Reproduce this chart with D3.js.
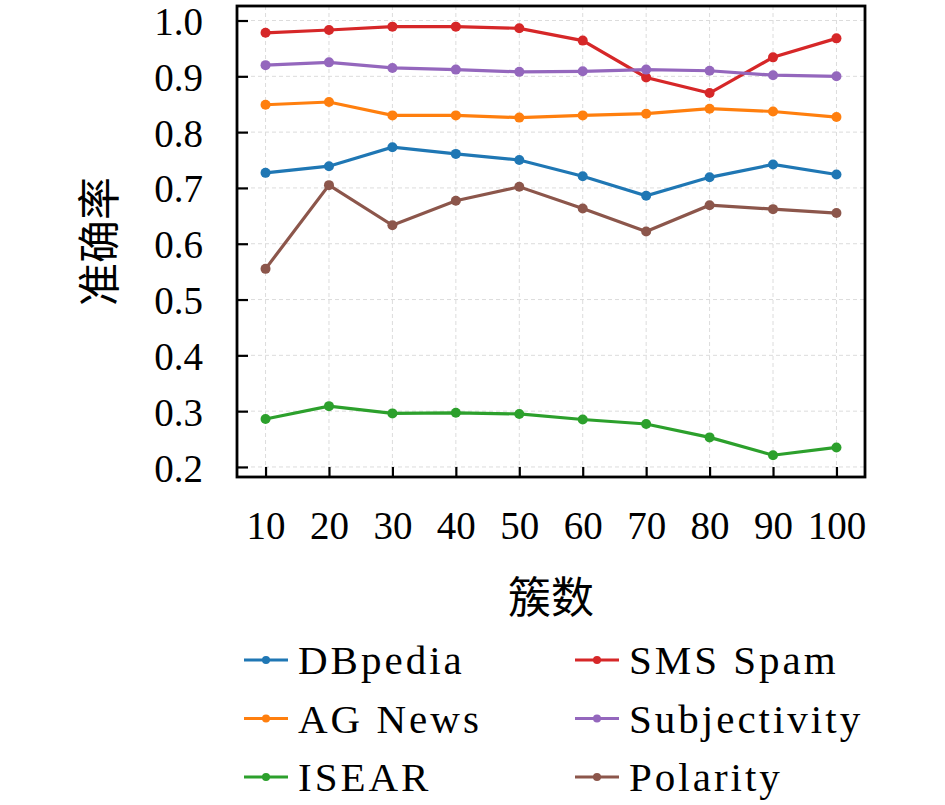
<!DOCTYPE html>
<html>
<head>
<meta charset="utf-8">
<script src="https://cdn.jsdelivr.net/npm/d3@7"></script>
<style>
  html, body { margin: 0; padding: 0; background: #fff; overflow: hidden; }
  svg { display: block; }
  svg text { font-family: "Liberation Serif", "DejaVu Serif", serif; fill: #000; }
  .cjk { font-family: "Noto Sans CJK SC", sans-serif; }
</style>
</head>
<body>
<svg id="chart"></svg>
<script>
// cluster counts on the x axis
const clusters = [10, 20, 30, 40, 50, 60, 70, 80, 90, 100];
const yTicks = [0.2, 0.3, 0.4, 0.5, 0.6, 0.7, 0.8, 0.9, 1.0];

// accuracy per dataset
const dbpedia = [0.727, 0.739, 0.773, 0.761, 0.750, 0.721, 0.686, 0.719, 0.742, 0.724];
const agNews = [0.849, 0.854, 0.830, 0.830, 0.826, 0.830, 0.833, 0.842, 0.837, 0.827];
const isear = [0.286, 0.309, 0.296, 0.297, 0.295, 0.285, 0.277, 0.253, 0.221, 0.235];
const smsSpam = [0.978, 0.983, 0.989, 0.989, 0.986, 0.964, 0.898, 0.870, 0.934, 0.968];
const subjectivity = [0.920, 0.925, 0.915, 0.912, 0.908, 0.909, 0.912, 0.910, 0.902, 0.900];
const polarity = [0.555, 0.705, 0.633, 0.677, 0.702, 0.663, 0.622, 0.669, 0.662, 0.655];

const seriesNames = ["DBpedia", "AG News", "ISEAR", "SMS Spam", "Subjectivity", "Polarity"];
const seriesValues = [dbpedia, agNews, isear, smsSpam, subjectivity, polarity];
const colors = ["#1f77b4", "#ff7f0e", "#2ca02c", "#d62728", "#9467bd", "#8c564b"];

const width = 945, height = 805;
const margin = { top: 6, right: 80, bottom: 328, left: 237 };
const innerWidth = width - margin.left - margin.right;
const innerHeight = height - margin.top - margin.bottom;

const svg = d3.select("#chart").attr("width", width).attr("height", height);
const g = svg.append("g").attr("transform", `translate(${margin.left},${margin.top})`);

// Scales (matplotlib-like 5% padding)
const x = d3.scaleLinear().domain([5.5, 104.5]).range([0, innerWidth]);
const y = d3.scaleLinear().domain([0.182, 1.026]).range([innerHeight, 0]);

// Grid
g.append("g")
  .selectAll("line")
  .data(clusters)
  .join("line")
  .attr("x1", (d) => x(d)).attr("x2", (d) => x(d))
  .attr("y1", 0).attr("y2", innerHeight)
  .attr("stroke", "#dcdcdc").attr("stroke-width", 1).attr("stroke-dasharray", "4,3");
g.append("g")
  .selectAll("line")
  .data(yTicks)
  .join("line")
  .attr("y1", (d) => y(d)).attr("y2", (d) => y(d))
  .attr("x1", 0).attr("x2", innerWidth)
  .attr("stroke", "#dcdcdc").attr("stroke-width", 1).attr("stroke-dasharray", "4,3");

// Axes, ticks pointing inward
const xAxis = d3.axisBottom(x).tickValues(clusters).tickSize(-10).tickPadding(34).tickFormat(d3.format("d"));
const yAxis = d3.axisLeft(y).tickValues(yTicks).tickSize(-11).tickPadding(34).tickFormat(d3.format(".1f"));

const gx = g.append("g").attr("transform", `translate(0,${innerHeight})`).call(xAxis);
const gy = g.append("g").call(yAxis);
[gx, gy].forEach((a) => {
  a.select(".domain").remove();
  a.selectAll(".tick line").attr("stroke", "#000").attr("stroke-width", 2.2);
  a.selectAll(".tick text").style("font-size", "39px").attr("fill", "#000");
});
gy.selectAll(".tick text").attr("dy", "0.36em");

// Frame
g.append("rect")
  .attr("width", innerWidth).attr("height", innerHeight)
  .attr("fill", "none").attr("stroke", "#000").attr("stroke-width", 2.8);

// Lines
const line = d3.line().x((d, i) => x(clusters[i])).y((d) => y(d));
seriesValues.forEach((vals, k) => {
  g.append("path")
    .attr("d", line(vals))
    .attr("fill", "none")
    .attr("stroke", colors[k])
    .attr("stroke-width", 3.2);
  g.append("g")
    .selectAll("circle")
    .data(vals)
    .join("circle")
    .attr("cx", (d, i) => x(clusters[i]))
    .attr("cy", (d) => y(d))
    .attr("r", 5)
    .attr("fill", colors[k]);
});

// Axis titles
svg.append("text")
  .attr("class", "cjk")
  .attr("x", margin.left + innerWidth / 2)
  .attr("y", 613)
  .attr("text-anchor", "middle")
  .style("font-size", "43px")
  .text("簇数");

svg.append("text")
  .attr("class", "cjk")
  .attr("transform", `translate(115,${margin.top + innerHeight / 2}) rotate(-90)`)
  .attr("text-anchor", "middle")
  .style("font-size", "43px")
  .text("准确率");

// Legend, two columns filled column-wise
const legend = svg.append("g");
const items = legend.selectAll("g")
  .data(seriesNames)
  .join("g")
  .attr("transform", (d, i) => `translate(${i < 3 ? 244 : 575},${660 + (i % 3) * 58.5})`);
items.append("line")
  .attr("x1", 0).attr("x2", 44)
  .attr("stroke", (d, i) => colors[i]).attr("stroke-width", 3);
items.append("circle")
  .attr("cx", 22).attr("r", 4)
  .attr("fill", (d, i) => colors[i]);
items.append("text")
  .attr("x", 54)
  .attr("dy", "0.35em")
  .style("font-size", "41px")
  .style("letter-spacing", "3px")
  .text((d) => d);
</script>
</body>
</html>
